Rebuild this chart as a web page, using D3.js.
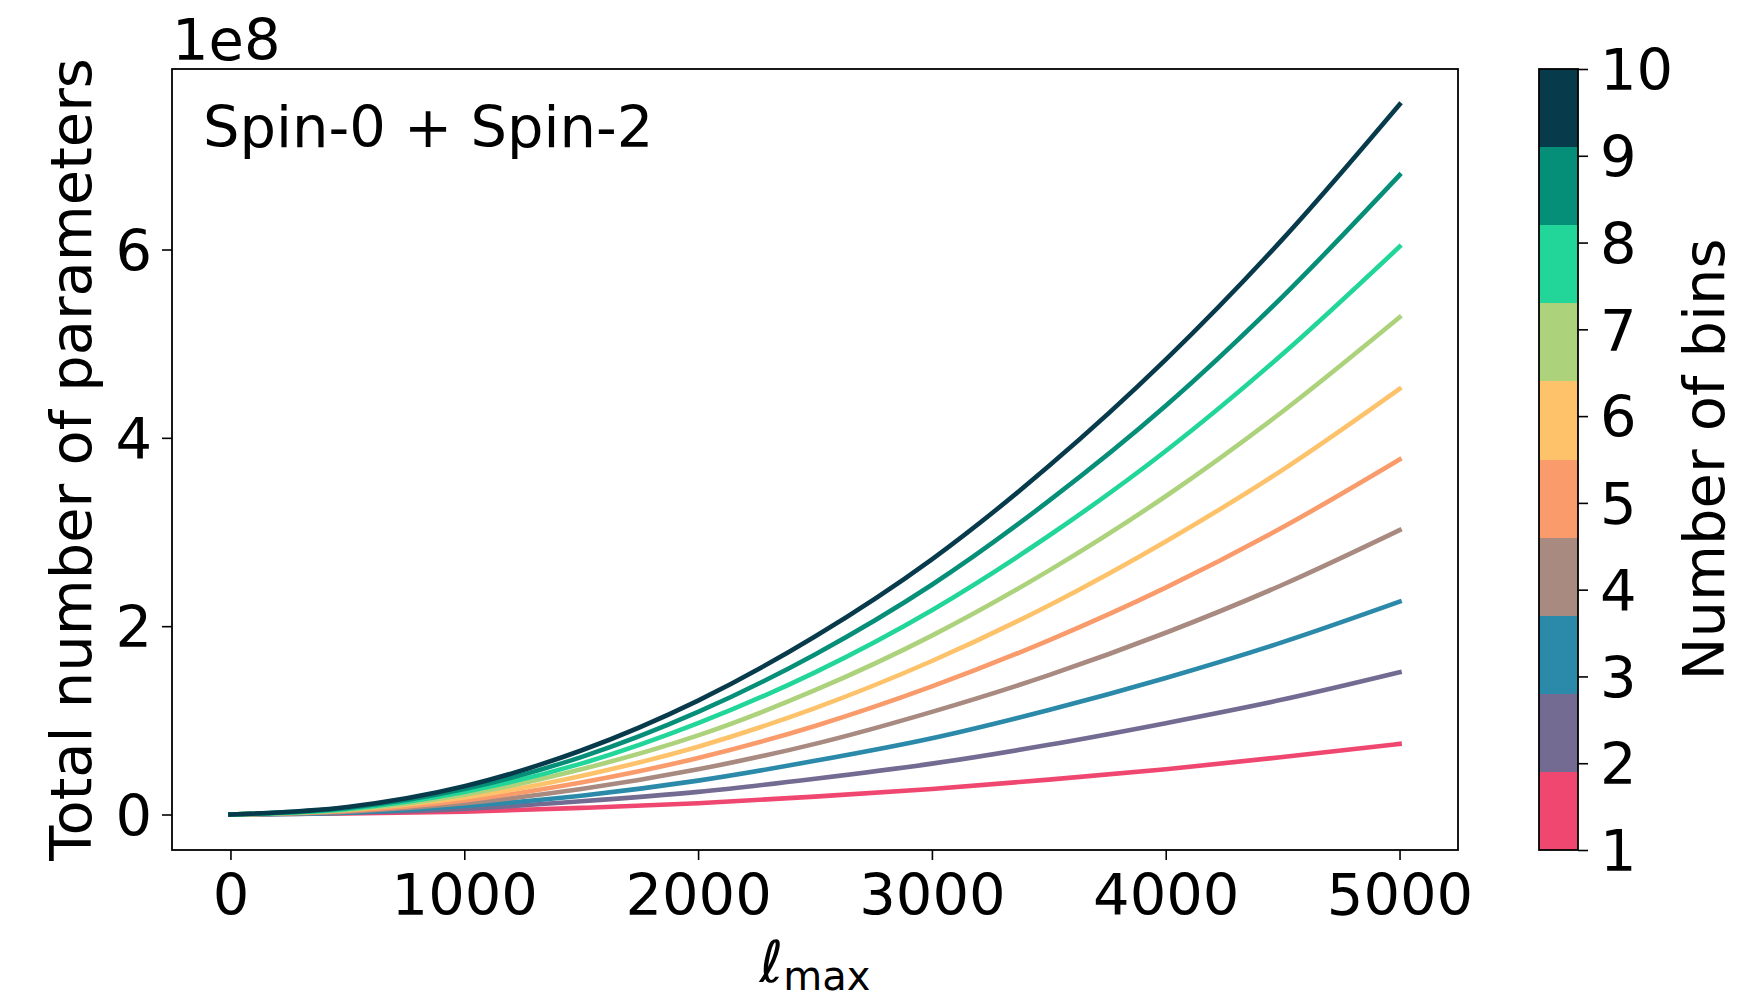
<!DOCTYPE html>
<html>
<head>
<meta charset="utf-8">
<script src="https://cdn.jsdelivr.net/npm/d3@7"></script>
<style>
  body { margin: 0; background: #fff; }
  svg text { font-family: "DejaVu Sans", sans-serif; fill: #000; }
</style>
</head>
<body>
<div id="wrapper"></div>
<script>
// lmax sample points
const lmax = [0, 500, 1000, 1500, 2000, 2500, 3000, 3500, 4000, 4500, 5000];

// total number of parameters (units of 1e8), one array per number of bins
const bins1  = [0, 0.01, 0.03, 0.07, 0.12, 0.19, 0.27, 0.37, 0.48, 0.61, 0.75];
const bins2  = [0, 0.02, 0.06, 0.14, 0.24, 0.38, 0.54, 0.74, 0.97, 1.22, 1.51];
const bins3  = [0, 0.02, 0.09, 0.20, 0.36, 0.57, 0.81, 1.11, 1.45, 1.83, 2.26];
const bins4  = [0, 0.03, 0.12, 0.27, 0.48, 0.75, 1.09, 1.48, 1.93, 2.44, 3.02];
const bins5  = [0, 0.04, 0.15, 0.34, 0.60, 0.94, 1.36, 1.85, 2.41, 3.05, 3.77];
const bins6  = [0, 0.05, 0.18, 0.41, 0.72, 1.13, 1.63, 2.22, 2.90, 3.66, 4.52];
const bins7  = [0, 0.05, 0.21, 0.48, 0.84, 1.32, 1.90, 2.59, 3.38, 4.28, 5.28];
const bins8  = [0, 0.06, 0.24, 0.54, 0.97, 1.51, 2.17, 2.96, 3.86, 4.89, 6.03];
const bins9  = [0, 0.07, 0.27, 0.61, 1.09, 1.70, 2.44, 3.33, 4.34, 5.50, 6.79];
const bins10 = [0, 0.08, 0.30, 0.68, 1.21, 1.89, 2.71, 3.70, 4.83, 6.11, 7.54];
const series = [bins1, bins2, bins3, bins4, bins5, bins6, bins7, bins8, bins9, bins10];

const binCounts = [1, 2, 3, 4, 5, 6, 7, 8, 9, 10];
const binColors = ["#ef476f", "#736b92", "#2b8aa9", "#a88a80", "#f99b6b",
                   "#fdc26a", "#add27c", "#22d69a", "#068f78", "#073b4c"];

const xTicks = [0, 1000, 2000, 3000, 4000, 5000];
const yTicks = [0, 2, 4, 6];

const W = 1742, H = 1000;
const plot = {left: 172, right: 1458, top: 69, bottom: 850};
const cbar = {left: 1539, right: 1578, top: 69, bottom: 850};
const fs = 57.5;

const svg = d3.select("#wrapper")
  .append("svg")
  .attr("width", W)
  .attr("height", H);

// matplotlib style 5% margins
const xMax = d3.max(lmax), yMax = d3.max(series, s => d3.max(s));
const xScale = d3.scaleLinear()
  .domain([-0.05 * xMax, 1.05 * xMax])
  .range([plot.left, plot.right]);
const yScale = d3.scaleLinear()
  .domain([-0.05 * yMax, 1.05 * yMax])
  .range([plot.bottom, plot.top]);

// curves
const line = d3.line()
  .x((d, i) => xScale(lmax[i]))
  .y(d => yScale(d))
  .curve(d3.curveMonotoneX);

svg.append("g")
  .selectAll("path")
  .data(series)
  .enter()
  .append("path")
  .attr("d", line)
  .attr("fill", "none")
  .attr("stroke", (d, i) => binColors[i])
  .attr("stroke-width", 4.6)
  .attr("stroke-linecap", "square");

// frame
svg.append("rect")
  .attr("x", plot.left).attr("y", plot.top)
  .attr("width", plot.right - plot.left)
  .attr("height", plot.bottom - plot.top)
  .attr("fill", "none").attr("stroke", "#000").attr("stroke-width", 1.8);

// axes
const xAxis = d3.axisBottom(xScale).tickValues(xTicks).tickSize(10).tickSizeOuter(0).tickPadding(12)
  .tickFormat(d3.format("d"));
const gx = svg.append("g")
  .attr("transform", "translate(0," + plot.bottom + ")")
  .call(xAxis);

const yAxis = d3.axisLeft(yScale).tickValues(yTicks).tickSize(10).tickSizeOuter(0).tickPadding(10)
  .tickFormat(d3.format("d"));
const gy = svg.append("g")
  .attr("transform", "translate(" + plot.left + ",0)")
  .call(yAxis);

[gx, gy].forEach(g => {
  g.select(".domain").remove();
  g.selectAll(".tick line").attr("stroke", "#000").attr("stroke-width", 1.6);
  g.selectAll(".tick text").style("font-size", fs + "px").attr("fill", "#000");
});
gx.selectAll(".tick text").attr("dy", null).attr("y", 65);
gy.selectAll(".tick text").attr("dy", "0.36em");

// offset text
svg.append("text")
  .attr("x", plot.left).attr("y", 60)
  .style("font-size", fs + "px")
  .text("1e8");

// annotation
svg.append("text")
  .attr("x", 203).attr("y", 147)
  .style("font-size", fs + "px")
  .text("Spin-0 + Spin-2");

// axis labels
svg.append("text")
  .attr("transform", "translate(91," + ((plot.top + plot.bottom) / 2) + ") rotate(-90)")
  .attr("text-anchor", "middle")
  .style("font-size", fs + "px")
  .text("Total number of parameters");

const xl = svg.append("text")
  .attr("x", (plot.left + plot.right) / 2)
  .attr("y", 982)
  .attr("text-anchor", "middle")
  .style("font-size", fs + "px");
xl.append("tspan").style("font-style", "italic").text("\u2113");
xl.append("tspan").attr("dy", 8).style("font-size", "40px").text("max");

// colorbar
const cScale = d3.scaleLinear()
  .domain([1, 10])
  .range([cbar.bottom, cbar.top]);
const step = (10 - 1) / binColors.length;

svg.append("g")
  .selectAll("rect")
  .data(binColors)
  .enter()
  .append("rect")
  .attr("x", cbar.left)
  .attr("width", cbar.right - cbar.left)
  .attr("y", (d, i) => cScale(1 + step * (i + 1)))
  .attr("height", (d, i) => cScale(1 + step * i) - cScale(1 + step * (i + 1)))
  .attr("fill", d => d)
  .attr("shape-rendering", "crispEdges");

svg.append("rect")
  .attr("x", cbar.left).attr("y", cbar.top)
  .attr("width", cbar.right - cbar.left)
  .attr("height", cbar.bottom - cbar.top)
  .attr("fill", "none").attr("stroke", "#000").attr("stroke-width", 1.8);

const cAxis = d3.axisRight(cScale).tickValues(binCounts).tickSize(10).tickSizeOuter(0).tickPadding(12);
const gc = svg.append("g")
  .attr("transform", "translate(" + cbar.right + ",0)")
  .call(cAxis);
gc.select(".domain").remove();
gc.selectAll(".tick line").attr("stroke", "#000").attr("stroke-width", 1.6);
gc.selectAll(".tick text").style("font-size", fs + "px").attr("fill", "#000").attr("dy", "0.36em");

svg.append("text")
  .attr("transform", "translate(1724," + ((cbar.top + cbar.bottom) / 2) + ") rotate(-90)")
  .attr("text-anchor", "middle")
  .style("font-size", fs + "px")
  .text("Number of bins");
</script>
</body>
</html>
